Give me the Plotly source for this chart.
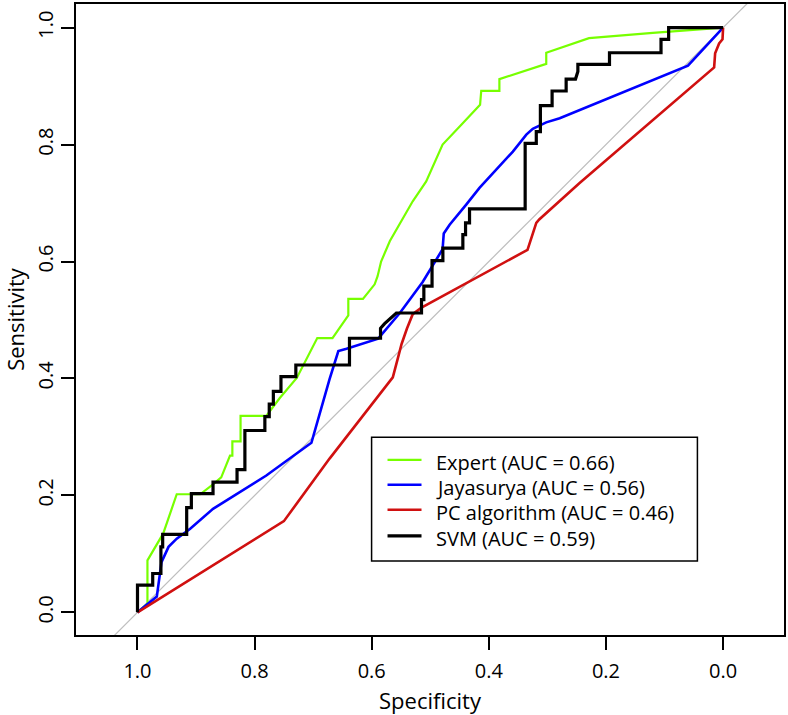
import plotly.graph_objects as go

# ---- data (specificity, sensitivity) ----
expert_spec = [1.0, 0.983, 0.983, 0.956, 0.933, 0.893, 0.871, 0.857, 0.842, 0.838, 0.838, 0.824, 0.824,
               0.780, 0.757, 0.728, 0.693, 0.667, 0.640, 0.640, 0.615, 0.595, 0.590, 0.584, 0.569,
               0.530, 0.507, 0.479, 0.447, 0.415, 0.413, 0.382, 0.382, 0.302, 0.302, 0.229, 0.120, 0.0]
expert_sens = [0.0, 0.015, 0.089, 0.135, 0.202, 0.202, 0.219, 0.231, 0.268, 0.268, 0.2925, 0.2925, 0.336,
               0.336, 0.3665, 0.401, 0.469, 0.469, 0.508, 0.536, 0.536, 0.561, 0.575, 0.600, 0.635,
               0.703, 0.737, 0.800, 0.834, 0.868, 0.892, 0.892, 0.912, 0.938, 0.957, 0.982, 0.991, 1.0]

jaya_spec = [1.0, 0.967, 0.959, 0.947, 0.933, 0.910, 0.871, 0.825, 0.780, 0.703, 0.672, 0.657, 0.643,
             0.589, 0.552, 0.513, 0.501, 0.479, 0.477, 0.467, 0.439, 0.416, 0.359, 0.336, 0.325,
             0.302, 0.279, 0.060, 0.0]
jaya_sens = [0.0, 0.027, 0.086, 0.112, 0.126, 0.143, 0.177, 0.206, 0.234, 0.290, 0.399, 0.447, 0.451,
             0.468, 0.512, 0.565, 0.584, 0.621, 0.648, 0.663, 0.697, 0.726, 0.788, 0.817, 0.827,
             0.838, 0.845, 0.935, 1.0]

pc_spec = [1.0, 0.750, 0.672, 0.564, 0.555, 0.549, 0.540, 0.530, 0.515, 0.334, 0.319, 0.314, 0.2455,
           0.0153, 0.0136, 0.0068, 0.001, 0.0]
pc_sens = [0.0, 0.156, 0.263, 0.402, 0.436, 0.459, 0.485, 0.510, 0.521, 0.620, 0.666, 0.672, 0.734,
           0.932, 0.956, 0.973, 0.980, 1.0]

svm_spec = [1.0, 1.0, 0.974, 0.974, 0.960, 0.960, 0.957, 0.957, 0.916, 0.916, 0.908, 0.908, 0.871, 0.871,
            0.830, 0.830, 0.8166, 0.8166, 0.7825, 0.7825, 0.775, 0.775, 0.768, 0.768, 0.755, 0.755,
            0.7296, 0.7296, 0.638, 0.638, 0.585, 0.585, 0.578, 0.558, 0.515, 0.515, 0.511, 0.511,
            0.497, 0.497, 0.4785, 0.4785, 0.4444, 0.4444, 0.4398, 0.4398, 0.433, 0.433, 0.338, 0.338,
            0.319, 0.319, 0.312, 0.312, 0.292, 0.292, 0.268, 0.268, 0.252, 0.248, 0.248, 0.194, 0.194,
            0.106, 0.106, 0.093, 0.093, 0.0]
svm_sens = [0.0, 0.0465, 0.0465, 0.0665, 0.0665, 0.112, 0.112, 0.1335, 0.1335, 0.179, 0.179, 0.203, 0.203,
            0.2227, 0.2227, 0.244, 0.244, 0.311, 0.311, 0.3346, 0.3346, 0.356, 0.356, 0.378, 0.378, 0.403,
            0.403, 0.423, 0.423, 0.4688, 0.4688, 0.4858, 0.4937, 0.512, 0.512, 0.535, 0.535, 0.558,
            0.558, 0.6017, 0.6017, 0.623, 0.623, 0.646, 0.646, 0.666, 0.666, 0.690, 0.690, 0.802,
            0.802, 0.822, 0.822, 0.8665, 0.8665, 0.8916, 0.8916, 0.912, 0.912, 0.925, 0.937, 0.937, 0.957,
            0.957, 0.980, 0.980, 1.0, 1.0]

diag_spec = [1.3, -0.3]
diag_sens = [1 - s for s in diag_spec]

labels = ["Expert (AUC = 0.66)", "Jayasurya (AUC = 0.56)", "PC algorithm (AUC = 0.46)", "SVM (AUC = 0.59)"]
colors = ["#77FF00", "#0000FF", "#D01010", "#000000"]
widths = [2.2, 2.6, 2.6, 3.2]

tick_vals = [1.0, 0.8, 0.6, 0.4, 0.2, 0.0]
tick_text = ["1.0", "0.8", "0.6", "0.4", "0.2", "0.0"]

FONT = "Open Sans"

fig = go.Figure()
fig.add_trace(go.Scatter(x=diag_spec, y=diag_sens, mode="lines",
                         line=dict(color="#BEBEBE", width=1.2), hoverinfo="skip", showlegend=False))
series = [(expert_spec, expert_sens), (jaya_spec, jaya_sens), (pc_spec, pc_sens), (svm_spec, svm_sens)]
for (sx, sy), name, c, w in zip(series, labels, colors, widths):
    fig.add_trace(go.Scatter(x=sx, y=sy, mode="lines", name=name,
                             line=dict(color=c, width=w), showlegend=False))

# manual R-style legend
shapes = [dict(type="rect", xref="paper", yref="paper", x0=0.4175, x1=0.8777, y0=0.1174, y1=0.3133,
               line=dict(color="black", width=1.5), fillcolor="white", layer="above")]
annotations = []
row_y = [0.2775, 0.2380, 0.1985, 0.1570]
for ry, name, c, w in zip(row_y, labels, colors, widths):
    shapes.append(dict(type="line", xref="paper", yref="paper", x0=0.440, x1=0.488, y0=ry, y1=ry,
                       line=dict(color=c, width=w), layer="above"))
    annotations.append(dict(xref="paper", yref="paper", x=0.5063, y=ry - 0.004, xanchor="left",
                            yanchor="middle", text=name, showarrow=False,
                            font=dict(family=FONT, size=20, color="black")))

fig.update_layout(
    width=788, height=715,
    margin=dict(l=76, r=3, t=2, b=80),
    paper_bgcolor="white", plot_bgcolor="white",
    shapes=shapes, annotations=annotations,
    font=dict(family=FONT, size=20, color="black"),
)
fig.update_xaxes(range=[1.105, -0.104], tickvals=tick_vals, ticktext=tick_text,
                 ticks="outside", ticklen=13, tickwidth=1.5, tickcolor="black",
                 showline=True, linecolor="black", linewidth=1.5, mirror=True,
                 showgrid=False, zeroline=False, ticklabelstandoff=4,
                 tickfont=dict(family=FONT, size=20),
                 title=dict(text="Specificity", font=dict(family=FONT, size=22), standoff=12))
fig.update_yaxes(range=[-0.0387, 1.0404], tickvals=tick_vals, ticktext=tick_text,
                 ticks="outside", ticklen=13, tickwidth=1.5, tickcolor="black", tickangle=-90,
                 showline=True, linecolor="black", linewidth=1.5, mirror=True,
                 showgrid=False, zeroline=False,
                 tickfont=dict(family=FONT, size=20),
                 title=dict(text="Sensitivity", font=dict(family=FONT, size=22), standoff=14))

fig.write_html("out.html", config={"displayModeBar": False},
               post_script="document.body.style.margin='0px';")
